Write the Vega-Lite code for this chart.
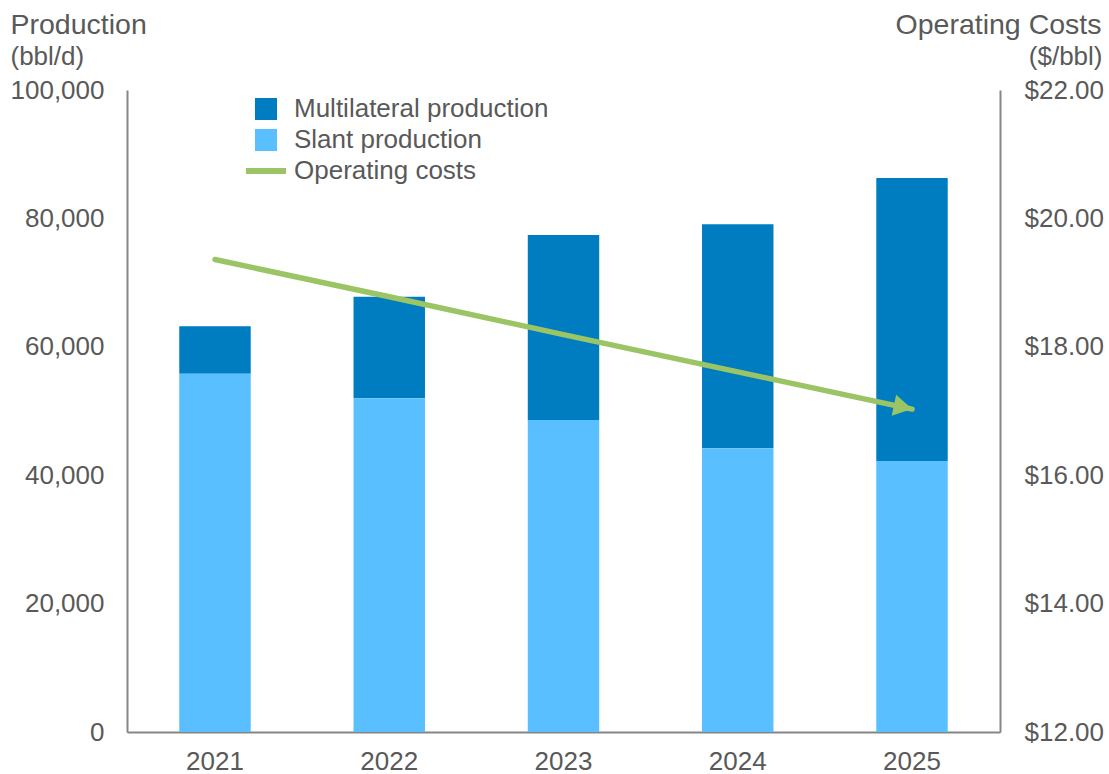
{
  "$schema": "https://vega.github.io/schema/vega-lite/v6.json",
  "width": 873,
  "height": 642,
  "autosize": {"type": "none"},
  "padding": {"left": 127, "top": 90, "right": 109, "bottom": 42},
  "background": "white",
  "config": {
    "font": "Liberation Sans",
    "view": {"stroke": null},
    "axis": {"labelColor": "#595959", "titleColor": "#595959", "labelFont": "Liberation Sans", "titleFont": "Liberation Sans"},
    "legend": {"labelColor": "#595959", "labelFont": "Liberation Sans"}
  },
  "datasets": {
    "production": [
      {"year": "2021", "series": "Multilateral production", "bbl": 7400},
      {"year": "2021", "series": "Slant production", "bbl": 55800},
      {"year": "2022", "series": "Multilateral production", "bbl": 15800},
      {"year": "2022", "series": "Slant production", "bbl": 52000},
      {"year": "2023", "series": "Multilateral production", "bbl": 28800},
      {"year": "2023", "series": "Slant production", "bbl": 48600},
      {"year": "2024", "series": "Multilateral production", "bbl": 34900},
      {"year": "2024", "series": "Slant production", "bbl": 44200},
      {"year": "2025", "series": "Multilateral production", "bbl": 44100},
      {"year": "2025", "series": "Slant production", "bbl": 42200}
    ],
    "costs": [
      {"year": "2021", "series": "Operating costs", "cost": 19.36},
      {"year": "2022", "series": "Operating costs", "cost": 18.78},
      {"year": "2023", "series": "Operating costs", "cost": 18.19},
      {"year": "2024", "series": "Operating costs", "cost": 17.61},
      {"year": "2025", "series": "Operating costs", "cost": 17.03}
    ]
  },
  "layer": [
    {
      "data": {"name": "production"},
      "mark": {"type": "bar"},
      "encoding": {
        "x": {
          "field": "year", "type": "nominal",
          "scale": {"paddingInner": 0.59, "paddingOuter": 0.3},
          "axis": {
            "orient": "bottom", "labelAngle": 0, "labelFontSize": 26, "labelPadding": 16,
            "ticks": false, "tickSize": 0, "domainColor": "#868686", "domainWidth": 2, "grid": false,
            "title": "(bbl/d)", "titleFontSize": 26, "titleFontWeight": "normal", "titleAngle": 0,
            "titleAlign": "left", "titleBaseline": "alphabetic", "titleX": -117, "titleY": -668
          }
        },
        "y": {
          "field": "bbl", "type": "quantitative", "stack": "zero",
          "scale": {"domain": [0, 100000], "nice": false},
          "axis": {
            "orient": "left", "values": [0, 20000, 40000, 60000, 80000, 100000], "format": ",.0f",
            "grid": false, "ticks": false, "tickSize": 0, "labelPadding": 23, "labelFontSize": 26,
            "domainColor": "#868686", "domainWidth": 2,
            "title": "Production", "titleAngle": 0, "titleAlign": "left",
            "titleBaseline": "alphabetic", "titleX": -117, "titleY": -57, "titleFontSize": 28.5,
            "titleFontWeight": "normal"
          }
        },
        "fill": {
          "field": "series", "type": "nominal",
          "scale": {"domain": ["Multilateral production", "Slant production"], "range": ["#007CC1", "#59BFFF"]},
          "legend": {
            "orient": "none", "legendX": 126, "legendY": 6, "direction": "vertical", "title": null,
            "symbolType": "square", "symbolSize": 484, "symbolStrokeWidth": 0, "symbolOpacity": 1,
            "labelFontSize": 26, "labelOffset": 15, "rowPadding": 5, "padding": 0, "labelLimit": 400
          }
        },
        "order": {"field": "series", "sort": "descending"}
      }
    },
    {
      "data": {"name": "costs"},
      "mark": {"type": "line", "strokeWidth": 5.5, "strokeCap": "round"},
      "encoding": {
        "x": {
          "field": "year", "type": "nominal",
          "axis": {
            "orient": "top", "labels": false, "ticks": false, "domain": false, "grid": false,
            "title": "($/bbl)", "titleFontSize": 26, "titleFontWeight": "normal", "titleAngle": 0,
            "titleAlign": "right", "titleBaseline": "alphabetic", "titleX": 975, "titleY": -26
          }
        },
        "y": {
          "field": "cost", "type": "quantitative",
          "scale": {"domain": [12, 22], "nice": false},
          "axis": {
            "orient": "right", "values": [12, 14, 16, 18, 20, 22], "format": "$.2f",
            "grid": false, "ticks": false, "tickSize": 0, "labelPadding": 24, "labelFontSize": 26,
            "domainColor": "#868686", "domainWidth": 2,
            "title": "Operating Costs", "titleAngle": 0, "titleAlign": "right",
            "titleBaseline": "alphabetic", "titleX": 101, "titleY": -57, "titleFontSize": 28.5,
            "titleFontWeight": "normal"
          }
        },
        "stroke": {
          "field": "series", "type": "nominal",
          "scale": {"domain": ["Operating costs"], "range": ["#9BC565"]},
          "legend": {
            "orient": "none", "legendX": 116, "legendY": 58, "direction": "vertical", "title": null,
            "symbolType": "stroke", "symbolSize": 1600, "symbolStrokeWidth": 6,
            "labelFontSize": 26, "labelOffset": 5, "padding": 0, "labelLimit": 400
          }
        }
      }
    },
    {
      "data": {"name": "costs"},
      "transform": [{"filter": "datum.year == '2025'"}],
      "mark": {"type": "point", "shape": "triangle-right", "filled": true, "opacity": 1, "size": 460, "angle": 12, "xOffset": -9, "yOffset": -2, "color": "#9BC565"},
      "encoding": {
        "x": {"field": "year", "type": "nominal", "axis": null},
        "y": {"field": "cost", "type": "quantitative", "scale": {"domain": [12, 22], "nice": false}, "axis": null}
      }
    }
  ],
  "resolve": {"scale": {"y": "independent"}, "axis": {"y": "independent", "x": "independent"}}
}
